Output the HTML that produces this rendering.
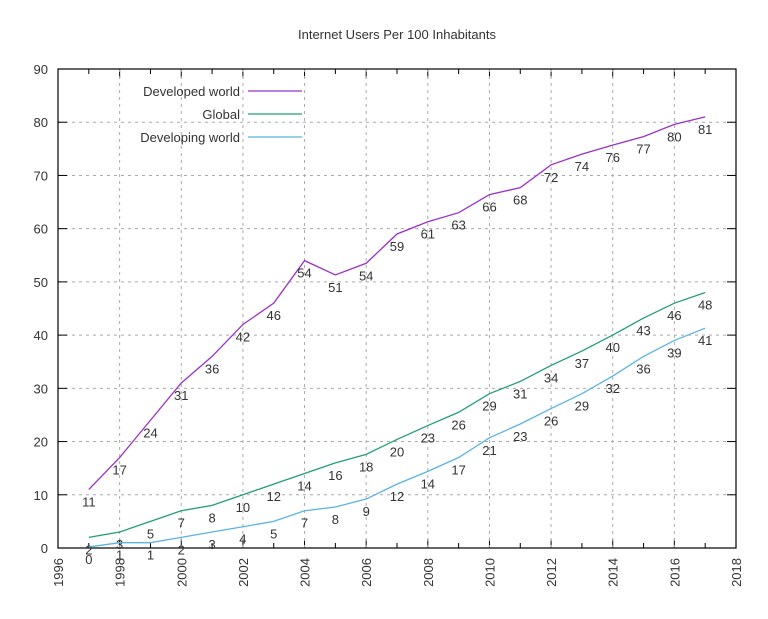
<!DOCTYPE html>
<html><head><meta charset="utf-8"><style>body{margin:0;background:#fff}text{font-family:"Liberation Sans",sans-serif;fill:#333}</style></head>
<body>
<svg id="c" width="768" height="614" xmlns="http://www.w3.org/2000/svg">
<text x="397" y="39" text-anchor="middle" font-size="13">Internet Users Per 100 Inhabitants</text>
</svg>
<script>
const years=[1997,1998,1999,2000,2001,2002,2003,2004,2005,2006,2007,2008,2009,2010,2011,2012,2013,2014,2015,2016,2017];
const developed=[11,17,24,31,36,42,46,54,51.3,53.5,59,61.3,63,66.4,67.7,72,74,75.7,77.3,79.6,81];
const globalS=[2,3,5,7,8,10,12,14,16,17.6,20.4,23,25.5,29,31.3,34.3,37,40,43.2,46,48];
const developing=[0.2,1,1,2,3,4,5,7,7.7,9.2,12,14.4,17,20.7,23.3,26.2,29,32.3,36,39,41.3];
const xTicks=[1996,1998,2000,2002,2004,2006,2008,2010,2012,2014,2016,2018];
const yTicks=[0,10,20,30,40,50,60,70,80,90];
const L=58,R=736,T=69,B=548;
const sx=v=>L+(v-1996)/(22)*(R-L), sy=v=>B-v/90*(B-T);
const svg=document.getElementById('c'),NS='http://www.w3.org/2000/svg';
function mk(t,a,p){const e=document.createElementNS(NS,t);for(const k in a)e.setAttribute(k,a[k]);(p||svg).appendChild(e);return e;}
yTicks.forEach(v=>{if(v>0&&v<90){const g=mk('line',{x1:L,x2:R,y1:sy(v),y2:sy(v),stroke:'#aaa','stroke-dasharray':'3,4','stroke-width':1});}
 mk('line',{x1:L,x2:L+9,y1:sy(v),y2:sy(v),stroke:'#000'});mk('line',{x1:R,x2:R-9,y1:sy(v),y2:sy(v),stroke:'#000'});
 const t=mk('text',{x:L-10,y:sy(v)+5,'text-anchor':'end','font-size':13});t.textContent=v;});
for(let y=1997;y<2018;y++){const big=y%2==0;mk('line',{x1:sx(y),x2:sx(y),y1:B,y2:B-(big?9:5),stroke:'#000'});mk('line',{x1:sx(y),x2:sx(y),y1:T,y2:T+(big?9:5),stroke:'#000'});}
xTicks.forEach(v=>{if(v>1996&&v<2018){const g=mk('line',{x1:sx(v),x2:sx(v),y1:T,y2:B,stroke:'#aaa','stroke-dasharray':'3,4'});}
 const t=mk('text',{x:0,y:0,'text-anchor':'end','font-size':13,transform:`translate(${sx(v)+5},${B+10}) rotate(-90)`});t.textContent=v;});
const fr=mk('rect',{x:L,y:T,width:R-L,height:B-T,fill:'none',stroke:'#000','stroke-width':1.2});
const series=[['developed-world',developed,'#9b30c8','Developed world'],['global',globalS,'#20a070','Global'],['developing-world',developing,'#5ab4e0','Developing world']];
series.forEach(([n,d,c,lab],i)=>{
 const p=mk('polyline',{points:d.map((v,j)=>sx(years[j])+','+sy(v)).join(' '),fill:'none',stroke:c,'stroke-width':1.3});
 d.forEach((v,j)=>{const t=mk('text',{x:sx(years[j]),y:sy(v)+17,'text-anchor':'middle','font-size':13});t.textContent=Math.round(v);});
 const ly=91+i*23;
 const lt=mk('text',{x:240,y:ly+5,'text-anchor':'end','font-size':13});lt.textContent=lab;
 const ll=mk('line',{x1:248,x2:302,y1:ly,y2:ly,stroke:c,'stroke-width':1.3});
});
</script>
</body></html>
